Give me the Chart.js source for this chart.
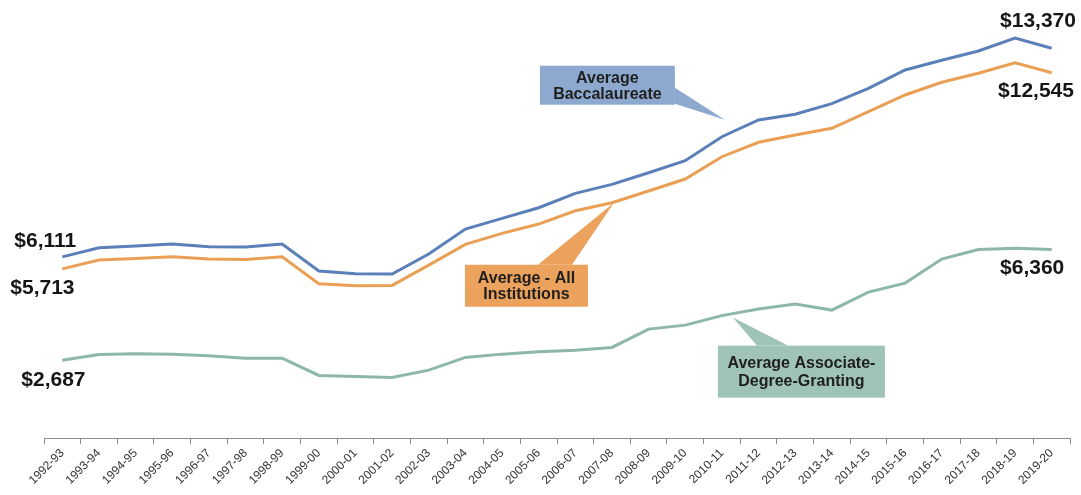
<!DOCTYPE html>
<html>
<head>
<meta charset="utf-8">
<script src="https://cdn.jsdelivr.net/npm/chart.js@4/dist/chart.umd.min.js"></script>
<style>
  html, body { margin: 0; padding: 0; background: #fff; }
  #wrap { position: relative; width: 1081px; height: 495px; }
</style>
</head>
<body>
<div id="wrap"><canvas id="chart"></canvas></div>
<script>
/* ── Data ── */
const years = [
    '1992-93', '1993-94', '1994-95', '1995-96', '1996-97', '1997-98', '1998-99',
    '1999-00', '2000-01', '2001-02', '2002-03', '2003-04', '2004-05', '2005-06',
    '2006-07', '2007-08', '2008-09', '2009-10', '2010-11', '2011-12', '2012-13',
    '2013-14', '2014-15', '2015-16', '2016-17', '2017-18', '2018-19', '2019-20'
];

const baccalaureate = [
    6111, 6414, 6470, 6536, 6447, 6437, 6536, 5641, 5551, 5541, 6205, 7034, 7389, 7741,
    8219, 8517, 8902, 9300, 10097, 10651, 10840, 11192, 11703, 12310, 12632, 12940, 13370, 13030
];

const allInstitutions = [
    5713, 6006, 6062, 6115, 6039, 6029, 6115, 5219, 5153, 5166, 5840, 6526, 6892, 7200,
    7641, 7907, 8295, 8693, 9433, 9911, 10153, 10375, 10926, 11480, 11902, 12200, 12545, 12220
];

const associate = [
    2687, 2877, 2897, 2887, 2830, 2754, 2754, 2180, 2147, 2114, 2356, 2777, 2887, 2963,
    3019, 3109, 3716, 3849, 4164, 4380, 4546, 4347, 4944, 5242, 6039, 6354, 6400, 6360
];

const BLUE   = '#5b80b9';
const ORANGE = '#eaa054';
const GREEN  = '#8db7a6';
const FONT   = `'Liberation Sans', Arial, sans-serif`;

/* ── Value labels next to the lines ── */
const valueLabels = [
    { ds: 0, i: 0,  text: '$6,111',  dx: -48, dy: -16 },
    { ds: 1, i: 0,  text: '$5,713',  dx: -52, dy: 19 },
    { ds: 2, i: 0,  text: '$2,687',  dx: -41, dy: 20 },
    { ds: 0, i: 26, text: '$13,370', dx: -15, dy: -17 },
    { ds: 1, i: 26, text: '$12,545', dx: -17, dy: 28 },
    { ds: 2, i: 26, text: '$6,360',  dx: -15, dy: 20 },
];

/* ── Callout boxes (box relative to anchor point) ── */
const callouts = [
    { ds: 0, i: 18, tip: [3, -17], lines: ['Average', 'Baccalaureate'], fill: '#8ea9cf',
      box: [-182, -71, 135, 39], base: [[-47, -49], [-47, -33]], lineGap: 16 },
    { ds: 1, i: 15, tip: [2, 0], lines: ['Average - All', 'Institutions'], fill: '#eba25c',
      box: [-147, 62, 123, 42], base: [[-74, 62], [-40, 62]], lineGap: 16 },
    { ds: 2, i: 18, tip: [11, 2], lines: ['Average Associate-', 'Degree-Granting'], fill: '#9fc4b5',
      box: [-4, 30, 167, 52], base: [[35, 30], [66, 30]], lineGap: 18 },
];

const annotatePlugin = {
    id: 'annotate',
    afterDatasetsDraw(chart) {
        const { ctx } = chart;
        const pt = (ds, i) => chart.getDatasetMeta(ds).data[i];

        ctx.save();
        // callouts
        callouts.forEach(c => {
            const p  = pt(c.ds, c.i);
            const ax = p.x + c.tip[0];
            const ay = p.y + c.tip[1];
            const bx = p.x + c.box[0];
            const by = p.y + c.box[1];
            ctx.fillStyle = c.fill;
            ctx.beginPath();
            ctx.moveTo(p.x + c.base[0][0], p.y + c.base[0][1]);
            ctx.lineTo(ax, ay);
            ctx.lineTo(p.x + c.base[1][0], p.y + c.base[1][1]);
            ctx.closePath();
            ctx.fill();
            ctx.fillRect(bx, by, c.box[2], c.box[3]);

            ctx.fillStyle    = '#1e1e1e';
            ctx.font         = `bold 16px ${FONT}`;
            ctx.textAlign    = 'center';
            ctx.textBaseline = 'middle';
            const cx  = bx + c.box[2] / 2;
            const cy  = by + c.box[3] / 2;
            const off = (c.lines.length - 1) * c.lineGap / 2;
            c.lines.forEach((t, k) => ctx.fillText(t, cx, cy - off + k * c.lineGap + 1));
        });

        // value labels
        ctx.fillStyle    = '#161616';
        ctx.font         = `bold 21px ${FONT}`;
        ctx.textAlign    = 'left';
        ctx.textBaseline = 'middle';
        valueLabels.forEach(l => {
            const p = pt(l.ds, l.i);
            ctx.fillText(l.text, p.x + l.dx, p.y + l.dy);
        });
        ctx.restore();
    }
};

const lineSet = (label, data, color) => ({
    label,
    data,
    borderColor: color,
    backgroundColor: color,
    borderWidth: 3,
    pointRadius: 0,
    tension: 0,
    fill: false,
});

new Chart(document.getElementById('chart').getContext('2d'), {
    type: 'line',
    plugins: [annotatePlugin],
    data: {
        labels: years,
        datasets: [
            lineSet('Average Baccalaureate', baccalaureate, BLUE),
            lineSet('Average - All Institutions', allInstitutions, ORANGE),
            lineSet('Average Associate-Degree-Granting', associate, GREEN),
        ]
    },
    options: {
        responsive: true,
        maintainAspectRatio: false,
        animation: false,
        layout: { padding: { top: 19, left: 44, right: 11, bottom: 5.5 } },
        plugins: {
            legend:  { display: false },
            tooltip: { enabled: false },
        },
        scales: {
            x: {
                offset: true,
                grid: {
                    offset: true,
                    drawOnChartArea: false,
                    drawTicks: true,
                    tickLength: 6,
                    color: '#8c8c8c',
                },
                border: { display: true, color: '#8c8c8c', width: 1 },
                ticks: {
                    autoSkip: false,
                    maxRotation: 45,
                    minRotation: 45,
                    color: '#333',
                    padding: 2,
                    font: { family: FONT, size: 12 },
                },
            },
            y: {
                display: false,
                min: 100,
                max: 14000,
            }
        }
    }
});
</script>
</body>
</html>
